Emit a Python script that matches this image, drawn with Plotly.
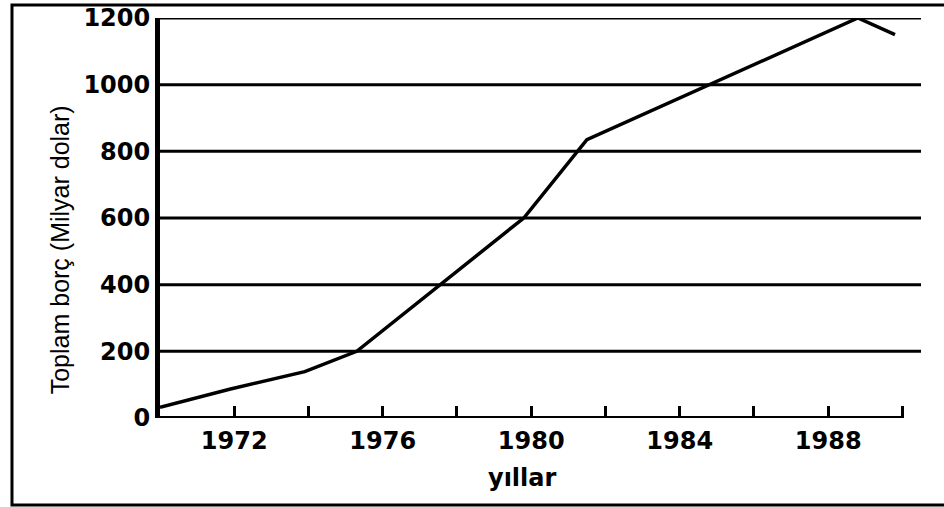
import plotly.graph_objects as go

# debt curve
years = [1970, 1971.9, 1973.9, 1975.3, 1979.8, 1981.5, 1988.8, 1989.8]
debt = [32, 87, 139, 200, 600, 835, 1200, 1150]

y_ticks = [0, 200, 400, 600, 800, 1000, 1200]
x_ticks = [1972, 1974, 1976, 1978, 1980, 1982, 1984, 1986, 1988, 1990]
x_labels = ["1972", "", "1976", "", "1980", "", "1984", "", "1988", ""]

tick_font = dict(family="DejaVu Sans", size=24, color="black", weight="bold")

fig = go.Figure()

fig.add_trace(go.Scatter(
    x=years,
    y=debt,
    mode="lines",
    line=dict(color="black", width=3.5),
    showlegend=False,
    hoverinfo="skip",
))

shapes = []
# horizontal grid lines, longer than the x axis line
for v in y_ticks[1:]:
    shapes.append(dict(type="line", xref="paper", yref="y", x0=0, x1=1, y0=v, y1=v,
                       line=dict(color="black", width=3), layer="below"))
# x axis base line, stops at the last tick
shapes.append(dict(type="line", xref="x", yref="y", x0=years[0], x1=x_ticks[-1], y0=0, y1=0,
                   line=dict(color="black", width=4)))
# outer frame (right side runs off the picture)
shapes.append(dict(type="rect", xref="paper", yref="paper", x0=-0.1945, x1=1.06, y0=-0.2175, y1=1.0325,
                   line=dict(color="black", width=3), fillcolor="rgba(0,0,0,0)"))

fig.update_layout(
    width=944,
    height=507,
    margin=dict(l=160, r=23, t=18, b=89),
    plot_bgcolor="white",
    paper_bgcolor="white",
    shapes=shapes,
    xaxis=dict(
        range=[1970, 1990.5],
        tickvals=x_ticks,
        ticktext=x_labels,
        ticks="inside",
        ticklen=12,
        tickwidth=3,
        tickcolor="black",
        tickfont=tick_font,
        ticklabelstandoff=6,
        showgrid=False,
        zeroline=False,
        showline=False,
        automargin=False,
    ),
    yaxis=dict(
        range=[0, 1200],
        tickvals=y_ticks,
        tickfont=tick_font,
        showgrid=False,
        zeroline=False,
        showline=True,
        linecolor="black",
        linewidth=5,
        ticks="",
        ticklabelstandoff=0,
        automargin=False,
    ),
    annotations=[
        dict(text="Toplam borç (Milyar dolar)", xref="paper", yref="paper", x=-0.131, y=0.42,
             xanchor="center", yanchor="middle", textangle=-90, showarrow=False,
             font=dict(family="Liberation Sans Narrow, Liberation Sans", size=25, color="black")),
        dict(text="yıllar", xref="paper", yref="paper", x=0.477, y=-0.15,
             xanchor="center", yanchor="middle", showarrow=False,
             font=tick_font),
    ],
)

fig.write_html("out.html", config={"displayModeBar": False},
               post_script="document.body.style.margin='0px';")
